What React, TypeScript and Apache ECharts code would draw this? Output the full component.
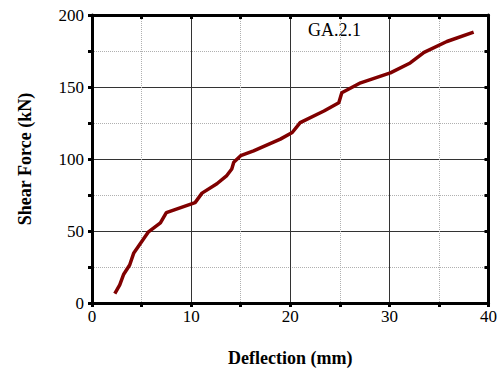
import React, { useEffect, useRef } from "react";
import * as echarts from "echarts";

const deflection = [2.3, 2.8, 3.2, 3.8, 4.2, 5.7, 6.9, 7.5, 10.4, 11.1, 12.6, 13.6, 14.1, 14.3, 15.0, 16.3, 19.0, 20.2, 21.0, 23.4, 24.9, 25.2, 27.1, 30.1, 32.1, 33.5, 35.8, 38.5];
const shear = [6.5, 12.6, 20, 26.4, 34.5, 49.4, 55.6, 62.8, 69.7, 76.3, 82.8, 88.5, 93.1, 97.7, 102.3, 105.7, 113.8, 118.4, 125.3, 133.3, 139.1, 146, 152.9, 159.8, 166.7, 174, 181.6, 188.1];
const label = "GA.2.1";

const serif = "Liberation Serif";

export default function App() {
  const ref = useRef<HTMLDivElement>(null);
  useEffect(() => {
    if (!ref.current) return;
    const chart = echarts.init(ref.current, null, { renderer: "svg" });
    const data = deflection.map((d, i) => [d, shear[i]]);
    const minorLine = { show: true, lineStyle: { color: "#b0b0b0", type: "dotted", width: 1 } };
    const majorLine = { show: true, lineStyle: { color: "#333", width: 1 } };
    chart.setOption({
      animation: false,
      grid: { left: 92, right: 11, top: 15, bottom: 67 },
      xAxis: [
        {
          type: "value", min: 0, max: 40, interval: 10, position: "bottom",
          axisLine: { show: true, onZero: false, lineStyle: { color: "#000", width: 3 } },
          axisTick: { show: true, inside: false, length: 4, lineStyle: { color: "#000", width: 3 } },
          minorTick: { show: true, splitNumber: 2, length: 4, lineStyle: { color: "#000", width: 3 } },
          splitLine: majorLine,
          minorSplitLine: minorLine,
          axisLabel: { fontFamily: serif, fontSize: 17, color: "#000", margin: 5 },
          name: "Deflection (mm)", nameLocation: "middle", nameGap: 46,
          nameTextStyle: { fontFamily: serif, fontSize: 18, fontWeight: "bold", color: "#000" },
        },
        {
          type: "value", min: 0, max: 40, interval: 10, position: "top",
          axisLine: { show: true, onZero: false, lineStyle: { color: "#000", width: 3 } },
          axisTick: { show: true, inside: true, length: 4, lineStyle: { color: "#000", width: 3 } },
          minorTick: { show: true, splitNumber: 2, length: 4, lineStyle: { color: "#000", width: 3 } },
          splitLine: { show: false },
          axisLabel: { show: false },
        },
      ],
      yAxis: [
        {
          type: "value", min: 0, max: 200, interval: 50, position: "left",
          axisLine: { show: true, onZero: false, lineStyle: { color: "#000", width: 3 } },
          axisTick: { show: true, inside: false, length: 4, lineStyle: { color: "#000", width: 3 } },
          minorTick: { show: true, splitNumber: 2, length: 4, lineStyle: { color: "#000", width: 3 } },
          splitLine: majorLine,
          minorSplitLine: minorLine,
          axisLabel: { fontFamily: serif, fontSize: 17, color: "#000", margin: 8 },
          name: "Shear Force (kN)", nameLocation: "middle", nameGap: 58,
          nameTextStyle: { fontFamily: serif, fontSize: 18, fontWeight: "bold", color: "#000" },
        },
        {
          type: "value", min: 0, max: 200, interval: 50, position: "right",
          axisLine: { show: true, onZero: false, lineStyle: { color: "#000", width: 3 } },
          axisTick: { show: true, inside: true, length: 4, lineStyle: { color: "#000", width: 3 } },
          minorTick: { show: true, splitNumber: 2, length: 4, lineStyle: { color: "#000", width: 3 } },
          splitLine: { show: false },
          axisLabel: { show: false },
        },
      ],
      graphic: [
        {
          type: "text", left: 308, top: 21,
          style: { text: label, fontFamily: serif, fontSize: 18, fill: "#000" },
        },
      ],
      series: [
        {
          type: "line", data, xAxisIndex: 0, yAxisIndex: 0, showSymbol: false,
          lineStyle: { color: "#800000", width: 3.5 },
        },
      ],
    });
    return () => chart.dispose();
  }, []);
  return <div ref={ref} style={{ width: 500, height: 372, position: "absolute", left: 0, top: 0 }} />;
}
